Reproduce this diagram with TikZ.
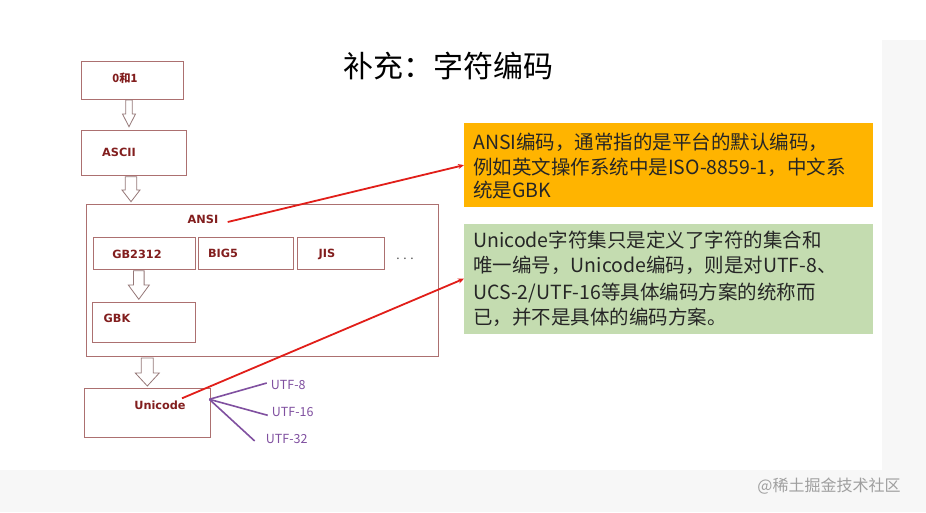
\documentclass[tikz,border=0pt]{standalone}
\usepackage{fontspec}
\setmainfont{Noto Sans CJK SC}
\newfontfamily\labfont{DejaVu Sans}
\newfontfamily\cjkfont{Noto Sans CJK SC}
\usetikzlibrary{arrows.meta,calc}
\definecolor{boxc}{RGB}{172,112,112}
\definecolor{arrc}{RGB}{150,120,120}
\definecolor{labc}{RGB}{130,30,30}
\definecolor{redl}{RGB}{225,30,25}
\definecolor{purp}{RGB}{128,80,160}
\definecolor{orangef}{RGB}{255,180,0}
\definecolor{greenf}{RGB}{196,220,176}
\newcommand\hollowarrow[6]{% x, top, bottom, shafthalf, headhalf, headstart
  \draw[arrc, fill=white, line width=0.8pt] (#1-#4,#2) -- (#1+#4,#2) -- (#1+#4,#6) -- (#1+#5,#6) -- (#1,#3) -- (#1-#5,#6) -- (#1-#4,#6) -- cycle;}
\tikzset{
  box/.style={draw=boxc, line width=0.8pt, inner sep=0pt, anchor=north west},
  lab/.style={text=labc, font=\labfont\bfseries\fontsize{11.3}{13}\selectfont, inner sep=0pt},
  redline/.style={draw=redl, line width=1.8pt, -{Stealth[length=6pt,width=5pt]}},
  purpline/.style={draw=purp, line width=1.6pt},
  utf/.style={text=purp, font=\fontsize{12.5}{14}\selectfont, inner sep=0pt},
  txt/.style={anchor=base west, inner sep=0pt, text=black!85, font=\fontsize{19.5}{24}\selectfont},
}
\begin{document}
\begin{tikzpicture}[x=1pt,y=-1pt]
\useasboundingbox (0,0) rectangle (926,512);
\fill[white] (0,0) rectangle (926,512);
\fill[gray!6] (882,40) rectangle (926,512);
\fill[gray!6] (0,470) rectangle (926,512);
\fill[white] (40,40) rectangle (882,470);
% title
\node (title) at (448,66) {\fontsize{30}{34}\selectfont 补充：字符编码};
% left boxes
\node[box, minimum width=102pt, minimum height=37.5pt] (b01) at (81,61) {};
\node[lab, font=\cjkfont\bfseries\fontsize{11.3}{13}\selectfont] (l01) at (125,78) {0和1};
\node[box, minimum width=105pt, minimum height=45pt] (basc) at (81,129.5) {};
\node[lab] (lasc) at (119,152.5) {ASCII};
\node[box, minimum width=352pt, minimum height=152pt] (bansi) at (85.5,204) {};
\node[lab] (lansi) at (203,219) {ANSI};
\node[box, minimum width=102pt, minimum height=32.5pt] (bgb) at (92.5,236.7) {};
\node[lab] (lgb) at (137,254) {GB2312};
\node[box, minimum width=95pt, minimum height=32pt] (bbig) at (198,236.7) {};
\node[lab] (lbig) at (223,253) {BIG5};
\node[box, minimum width=87.5pt, minimum height=31.5pt] (bjis) at (296.7,237.2) {};
\node[lab] (ljis) at (327,254) {JIS};
\node[inner sep=0pt, text=black!70, font=\fontsize{12}{14}\selectfont] (dots) at (405,259) {. . .};
\node[box, minimum width=103pt, minimum height=40.5pt] (bgbk) at (92,301.7) {};
\node[lab] (lgbk) at (117,318.5) {GBK};
\node[box, minimum width=126pt, minimum height=49.5pt] (buni) at (83.5,387.8) {};
\node[lab] (luni) at (160,405) {Unicode};
% hollow arrows
\hollowarrow{129}{100}{126.7}{3.2}{6.5}{114}
\hollowarrow{131}{176.7}{201.7}{5.8}{9}{190}
\hollowarrow{138.8}{270.7}{299.3}{5.3}{10.5}{285}
\hollowarrow{147.3}{358}{386}{6}{12}{373}
% UTF labels
\node[utf] (u8) at (288.3,385) {UTF-8};
\node[utf] (u16) at (292.7,412.3) {UTF-16};
\node[utf] (u32) at (286.7,439) {UTF-32};
\coordinate (uo) at (209.3,399.3);
\draw[purpline] (uo) -- ([xshift=-4pt,yshift=2pt]u8.west);
\draw[purpline] (uo) -- ([xshift=-4pt,yshift=-3pt]u16.west);
\draw[purpline] (uo) -- ([xshift=-11pt,yshift=-2pt]u32.west);
% right boxes
\node[box, draw=none, fill=orangef, minimum width=408.7pt, minimum height=84pt] (orange) at (464,122.7) {};
\node[txt] (o1) at (473,149) {ANSI编码，通常指的是平台的默认编码，};
\node[txt] (o2) at (473,174) {例如英文操作系统中是ISO-8859-1，中文系};
\node[txt] (o3) at (473,197.5) {统是GBK};
\node[box, draw=none, fill=greenf, minimum width=408.7pt, minimum height=110pt] (green) at (464,223.3) {};
\node[txt] (g1) at (473,247.4) {Unicode字符集只是定义了字符的集合和};
\node[txt] (g2) at (473,272.6) {唯一编号，Unicode编码，则是对UTF-8、};
\node[txt] (g3) at (473,299) {UCS-2/UTF-16等具体编码方案的统称而};
\node[txt] (g4) at (473,324) {已，并不是具体的编码方案。};
% red connectors
\coordinate (as) at (227.7,222);
\coordinate (us) at (182,398.3);
\draw[redline] (as) -- (orange.west);
\draw[redline] (us) -- (green.west);
% watermark
\node[inner sep=0pt, text=gray!75, font=\fontsize{16}{18}\selectfont] (wm) at (829,486.5) {@稀土掘金技术社区};
\end{tikzpicture}
\end{document}
